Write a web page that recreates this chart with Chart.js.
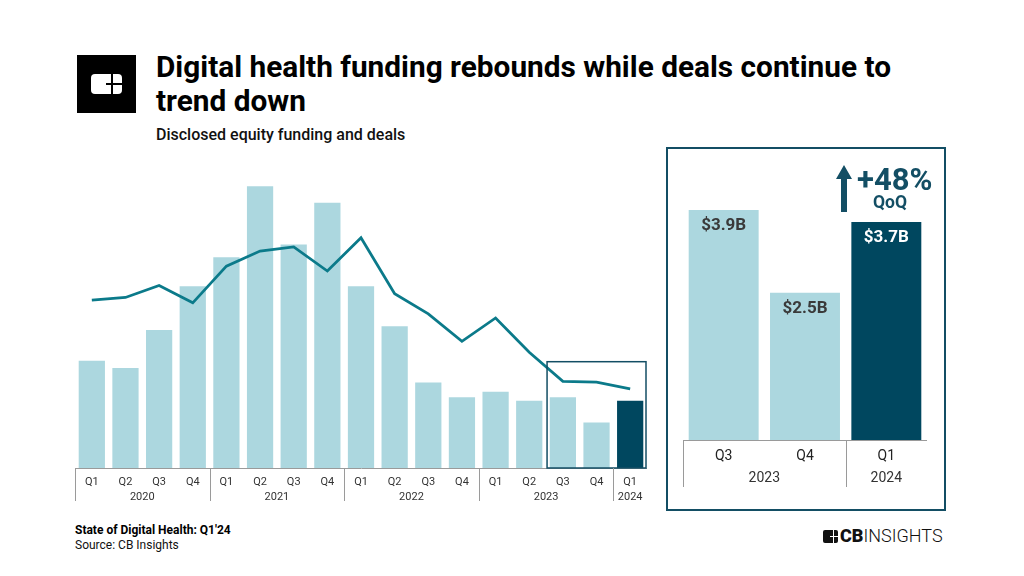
<!DOCTYPE html>
<html>
<head>
<meta charset="utf-8">
<script src="https://cdn.jsdelivr.net/npm/chart.js@4"></script>
<style>
  body { margin: 0; background: #fff; font-family: Roboto, sans-serif; }
  #page { position: relative; width: 1024px; height: 576px; overflow: hidden; }
  .abs { position: absolute; }
  #logo { left: 77px; top: 55px; width: 59px; height: 58px; background: #000; }
  #logo .card { position: absolute; left: 14px; top: 19px; width: 31px; height: 20px; background: #fff; border-radius: 4px; }
  #logo .h { position: absolute; left: 15px; top: 9px; width: 16px; height: 2px; background: #000; }
  #logo .v { position: absolute; left: 20px; top: 0; width: 2px; height: 20px; background: #000; }
  #title { left: 156px; top: 50px; font-size: 29.8px; font-weight: 700; line-height: 34px; color: #000; width: 760px; }
  #sub { left: 156px; top: 125px; font-size: 16px; font-weight: 500; color: #111; }
  #foot1 { left: 75px; top: 523px; font-size: 12px; font-weight: 700; color: #000; }
  #foot2 { left: 75px; top: 538px; font-size: 12px; color: #111; }
  #box { left: 666px; top: 147px; width: 276px; height: 360px; border: 2px solid #134e64; }
  #arrow { left: 836px; top: 165px; width: 16px; height: 47px; }
  #pct { left: 857px; top: 161px; font-size: 31px; font-weight: 700; color: #134e64; }
  #qoq { left: 873px; top: 192px; font-size: 17.5px; font-weight: 700; color: #134e64; }
  #cbi { left: 823px; top: 525px; font-size: 18px; color: #111; }
  #cbi .ic { display: inline-block; width: 15px; height: 13px; background: #111; border-radius: 2px; vertical-align: -1px; margin-right: 2px; position: relative; }
  #cbi .ic::before { content: ''; position: absolute; left: 7px; top: 6px; width: 8px; height: 1px; background: #fff; }
  #cbi .ic::after { content: ''; position: absolute; left: 10px; top: 0; width: 1px; height: 13px; background: #fff; }
  #cbi b { font-weight: 900; }
  #cbi span.l { font-weight: 300; }
</style>
</head>
<body>
<div id="page">
  <div id="logo" class="abs"><div class="card"><div class="h"></div><div class="v"></div></div></div>
  <div id="title" class="abs">Digital health funding rebounds while deals continue to trend down</div>
  <div id="sub" class="abs">Disclosed equity funding and deals</div>

  <div class="abs" style="left:75px;top:170px;width:572px;height:340px;"><canvas id="chartMain"></canvas></div>

  <div id="box" class="abs"></div>
  <div class="abs" style="left:683px;top:160px;width:244px;height:330px;"><canvas id="chartZoom"></canvas></div>
  <svg id="arrow" class="abs" viewBox="0 0 16 47"><polygon points="8,0 16,14 11,14 11,47 5,47 5,14 0,14" fill="#134e64"/></svg>
  <div id="pct" class="abs">+48%</div>
  <div id="qoq" class="abs">QoQ</div>

  <div id="foot1" class="abs">State of Digital Health: Q1'24</div>
  <div id="foot2" class="abs">Source: CB Insights</div>
  <div id="cbi" class="abs"><span class="ic"></span><b>CB</b><span class="l">INSIGHTS</span></div>
</div>
<script>
// quarters and years
const quarters = ['Q1','Q2','Q3','Q4','Q1','Q2','Q3','Q4','Q1','Q2','Q3','Q4','Q1','Q2','Q3','Q4','Q1'];
const years = ['2020','2021','2022','2023','2024'];
const yearSizes = [4, 4, 4, 4, 1];

// funding ($B) and deal counts
const funding = [5.9, 5.5, 7.6, 10.0, 11.6, 15.5, 12.3, 14.6, 10.0, 7.8, 4.7, 3.9, 4.2, 3.7, 3.9, 2.5, 3.7];
const deals = [655, 665, 712, 644, 787, 846, 862, 768, 898, 680, 601, 494, 585, 451, 338, 335, 309];

// zoom panel
const zoomQuarters = ['Q3', 'Q4', 'Q1'];
const zoomYears = ['2023', '2024'];
const zoomYearSizes = [2, 1];
const zoomFunding = [3.9, 2.5, 3.7];
const zoomLabels = ['$3.9B', '$2.5B', '$3.7B'];

const light = '#acd7df';
const dark = '#00475f';
const lineColor = '#0b7a8a';
const gray = '#9a9a9a';

// draws year group labels + separators under x axis
const yearGroups = {
  id: 'yearGroups',
  afterDraw(chart, args, opts) {
    const x = chart.scales.x;
    const c = chart.ctx;
    const bottom = chart.chartArea.bottom;
    const step = x.getPixelForValue(1) - x.getPixelForValue(0);
    c.save();
    c.strokeStyle = gray;
    c.lineWidth = 1;
    c.fillStyle = '#333';
    c.font = opts.font;
    c.textAlign = 'center';
    c.textBaseline = 'middle';
    let idx = 0;
    const drawSep = (px) => {
      c.beginPath();
      c.moveTo(Math.round(px) + 0.5, bottom);
      c.lineTo(Math.round(px) + 0.5, bottom + opts.sepLen);
      c.stroke();
    };
    drawSep(x.getPixelForValue(0) - step / 2);
    opts.sizes.forEach((n, i) => {
      const start = x.getPixelForValue(idx) - step / 2;
      const end = x.getPixelForValue(idx + n - 1) + step / 2;
      c.fillText(opts.labels[i], (start + end) / 2, bottom + opts.yearOffset);
      drawSep(end);
      idx += n;
    });
    c.restore();
  }
};

// outline round the last three quarters
const highlightBox = {
  id: 'highlightBox',
  afterDatasetsDraw(chart) {
    const x = chart.scales.x, y = chart.scales.y;
    const step = x.getPixelForValue(1) - x.getPixelForValue(0);
    const left = x.getPixelForValue(14) - step / 2 + 1;
    const right = x.getPixelForValue(16) + step / 2 - 1;
    const top = y.getPixelForValue(5.85);
    const c = chart.ctx;
    c.save();
    c.strokeStyle = '#134e64';
    c.lineWidth = 1.5;
    c.strokeRect(left, top, right - left, chart.chartArea.bottom - top);
    c.restore();
  }
};

// value labels inside zoom bars
const barLabels = {
  id: 'barLabels',
  afterDatasetsDraw(chart) {
    const meta = chart.getDatasetMeta(0);
    const c = chart.ctx;
    c.save();
    c.font = 'bold 17px Roboto';
    c.textAlign = 'center';
    c.textBaseline = 'middle';
    meta.data.forEach((bar, i) => {
      c.fillStyle = i === 2 ? '#fff' : '#3a3a3a';
      c.fillText(zoomLabels[i], bar.x, bar.y + 16);
    });
    c.restore();
  }
};

Chart.defaults.font.family = 'Roboto';
Chart.defaults.animation = false;

new Chart(document.getElementById('chartMain'), {
  type: 'bar',
  data: {
    labels: quarters,
    datasets: [{
      type: 'line',
      label: 'Deals',
      data: deals,
      yAxisID: 'y2',
      borderColor: lineColor,
      borderWidth: 2.8,
      pointRadius: 0,
      tension: 0,
      order: 0
    }, {
      label: 'Funding ($B)',
      data: funding,
      yAxisID: 'y',
      backgroundColor: funding.map((v, i) => i === funding.length - 1 ? dark : light),
      barPercentage: 0.78,
      categoryPercentage: 1,
      order: 1
    }]
  },
  options: {
    responsive: true,
    maintainAspectRatio: false,
    layout: { padding: 0 },
    plugins: {
      legend: { display: false },
      tooltip: { enabled: false },
      yearGroups: { labels: years, sizes: yearSizes, font: '11px Roboto', yearOffset: 29, sepLen: 33 }
    },
    scales: {
      x: {
        grid: { display: false },
        border: { display: true, color: gray, width: 1 },
        ticks: { color: '#333', font: { size: 11 }, padding: 0, maxRotation: 0, autoSkip: false },
        afterFit(scale) { scale.height = 42; }
      },
      y: { display: false, min: 0, max: 16.4 },
      y2: { display: false, min: 0, max: 1162 }
    }
  },
  plugins: [yearGroups, highlightBox]
});

new Chart(document.getElementById('chartZoom'), {
  type: 'bar',
  data: {
    labels: zoomQuarters,
    datasets: [{
      label: 'Funding ($B)',
      data: zoomFunding,
      backgroundColor: [light, light, dark],
      barPercentage: 0.86,
      categoryPercentage: 1
    }]
  },
  options: {
    responsive: true,
    maintainAspectRatio: false,
    layout: { padding: 0 },
    plugins: {
      legend: { display: false },
      tooltip: { enabled: false },
      yearGroups: { labels: zoomYears, sizes: zoomYearSizes, font: '14px Roboto', yearOffset: 38, sepLen: 47 }
    },
    scales: {
      x: {
        grid: { display: false },
        border: { display: true, color: gray, width: 1 },
        ticks: { color: '#222', font: { size: 14 }, padding: 0, maxRotation: 0, autoSkip: false },
        afterFit(scale) { scale.height = 50; }
      },
      y: { display: false, min: 0, max: 4.75 }
    }
  },
  plugins: [yearGroups, barLabels]
});
</script>
</body>
</html>
